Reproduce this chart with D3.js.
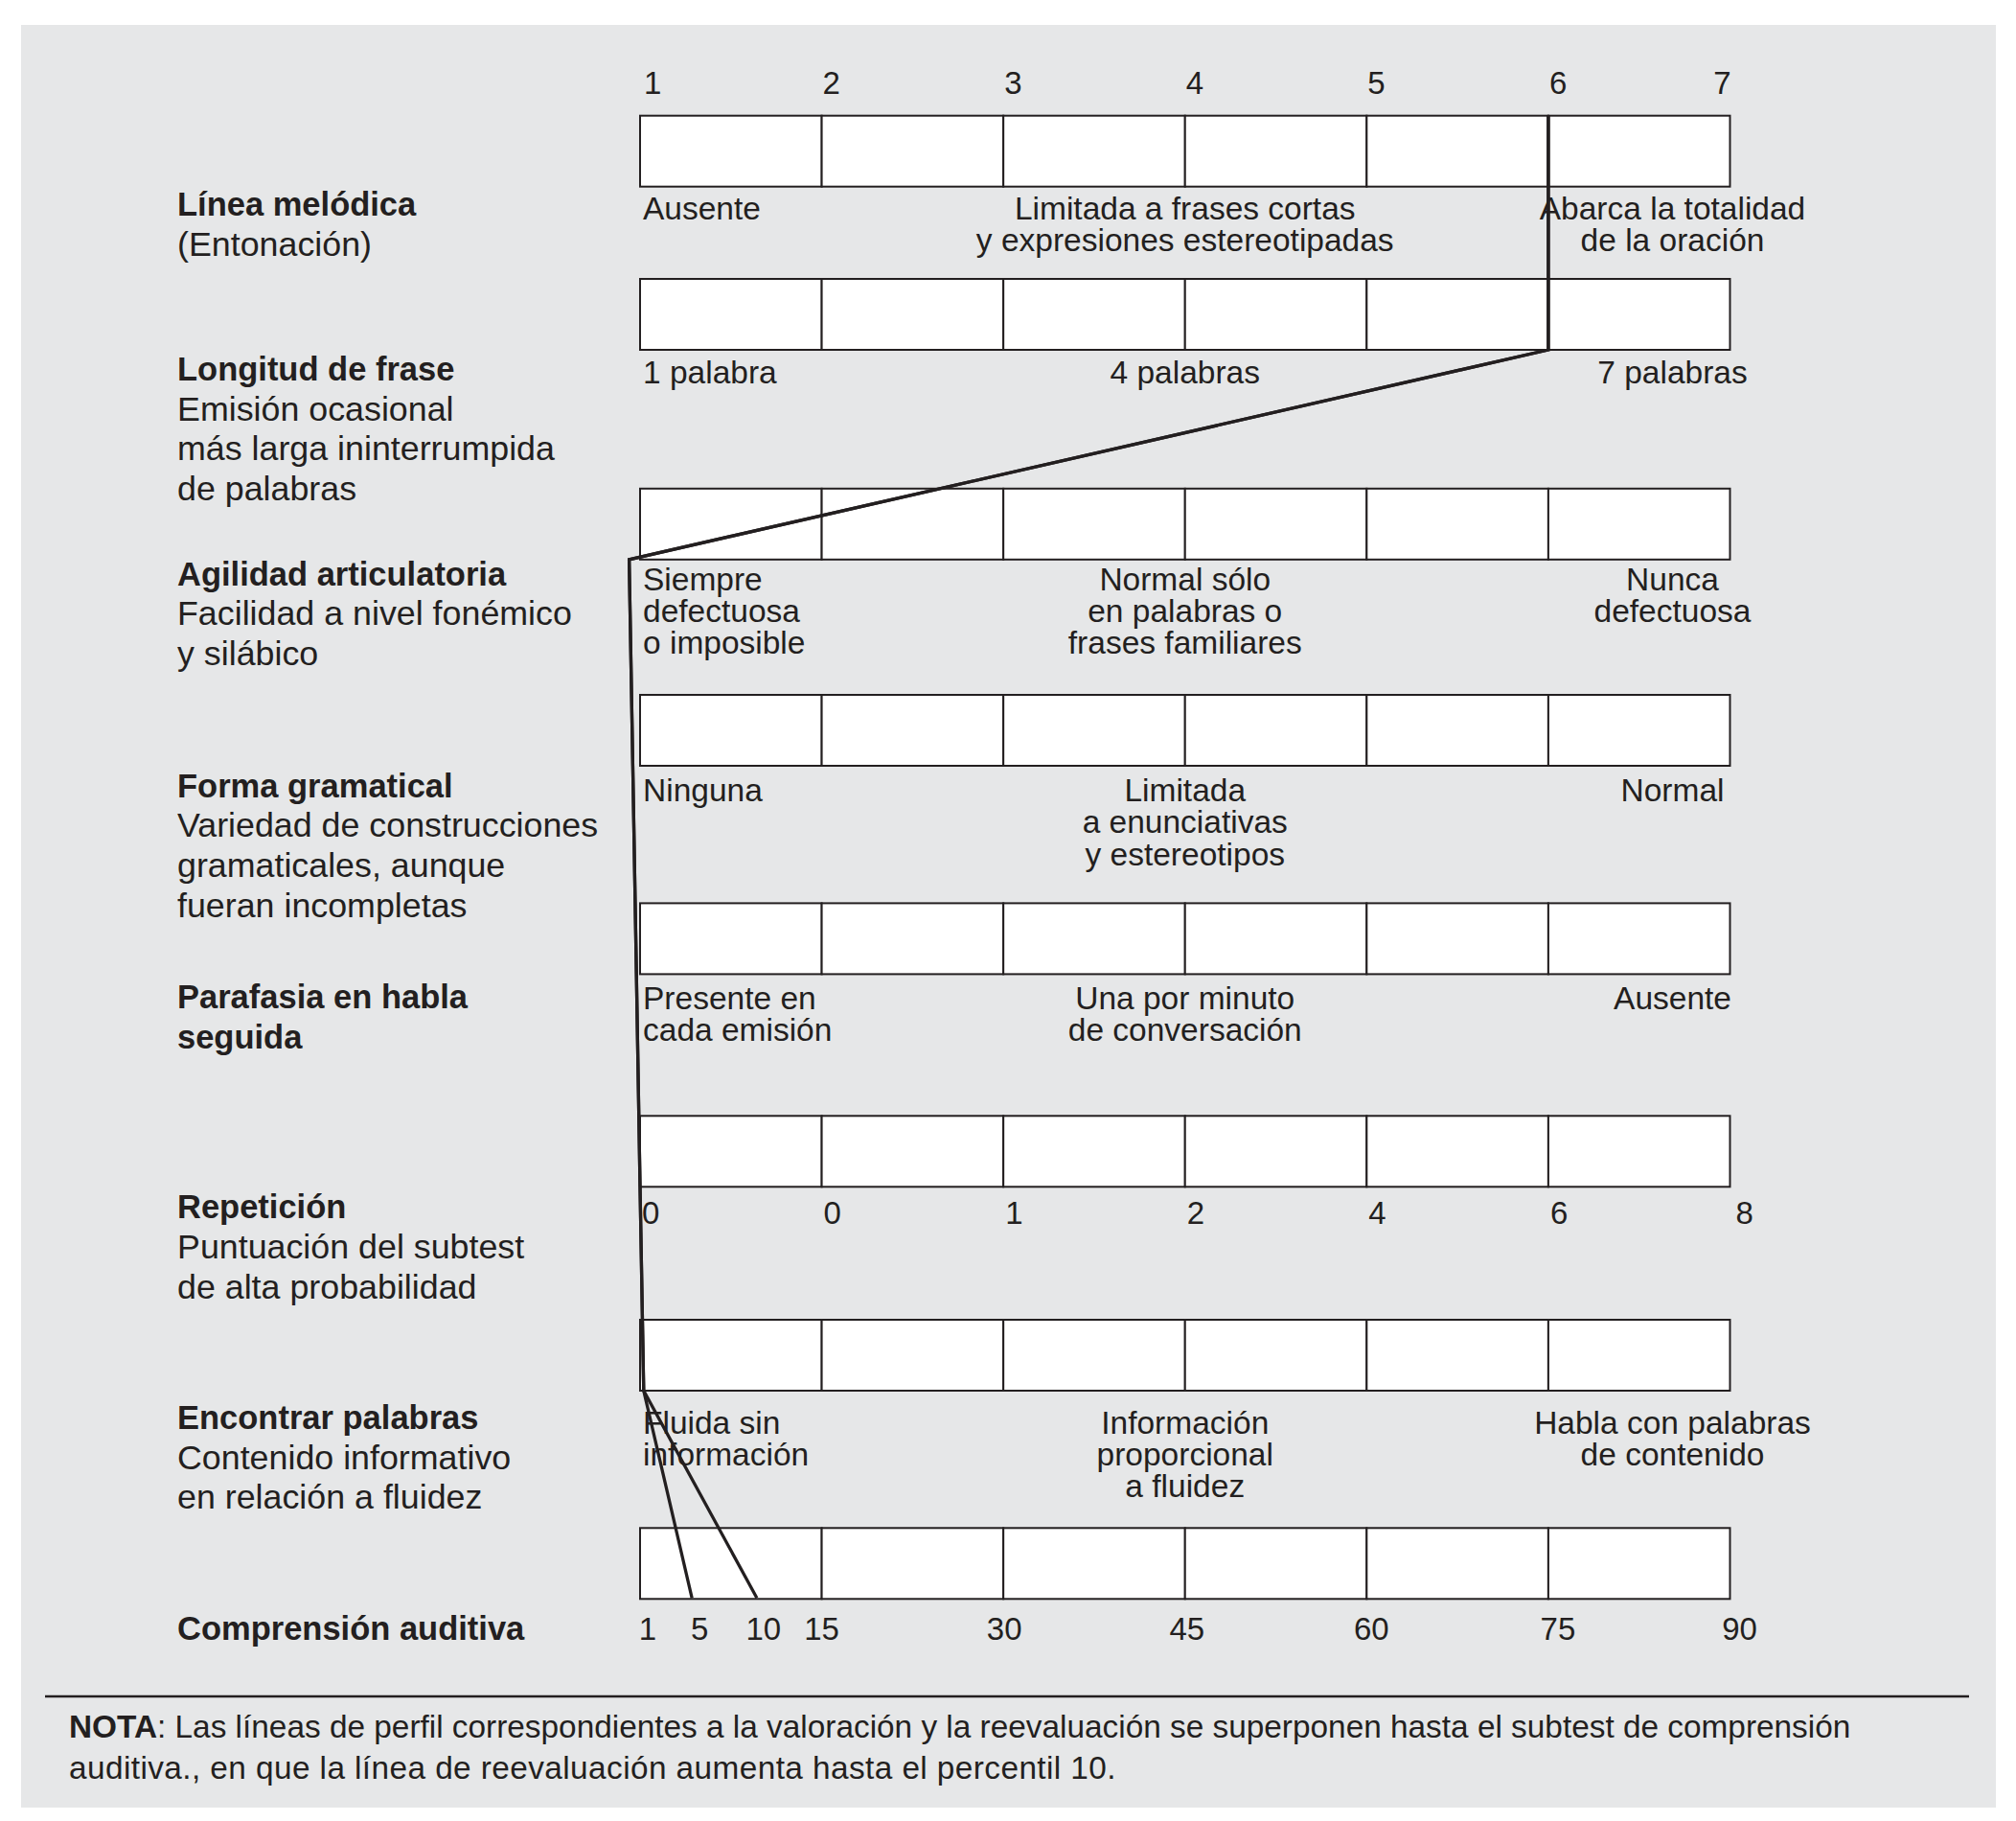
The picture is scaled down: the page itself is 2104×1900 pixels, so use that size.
<!DOCTYPE html>
<html><head><meta charset="utf-8">
<script src="https://cdn.jsdelivr.net/npm/d3@7"></script>
<style>body{margin:0;background:#fff}</style>
</head><body><svg id="c" width="2104" height="1900"></svg>
<script>
// ---------- DATA ----------
const ratingTicks = [1, 2, 3, 4, 5, 6, 7];
const repeticionTicks = ["0", "0", "1", "2", "4", "6", "8"];
const comprensionTicks = [1, 5, 10, 15, 30, 45, 60, 75, 90];
const comprensionDomain = [1, 15, 30, 45, 60, 75, 90];

const titles = [
  ["Línea melódica"],
  ["Longitud de frase"],
  ["Agilidad articulatoria"],
  ["Forma gramatical"],
  ["Parafasia en habla", "seguida"],
  ["Repetición"],
  ["Encontrar palabras"],
  ["Comprensión auditiva"]
];
const subtitles = [
  ["(Entonación)"],
  ["Emisión ocasional", "más larga ininterrumpida", "de palabras"],
  ["Facilidad a nivel fonémico", "y silábico"],
  ["Variedad de construcciones", "gramaticales, aunque", "fueran incompletas"],
  [],
  ["Puntuación del subtest", "de alta probabilidad"],
  ["Contenido informativo", "en relación a fluidez"],
  []
];
const lowLabels = [
  ["Ausente"], ["1 palabra"], ["Siempre", "defectuosa", "o imposible"], ["Ninguna"],
  ["Presente en", "cada emisión"], null, ["Fluida sin", "información"], null
];
const midLabels = [
  ["Limitada a frases cortas", "y expresiones estereotipadas"], ["4 palabras"],
  ["Normal sólo", "en palabras o", "frases familiares"], ["Limitada", "a enunciativas", "y estereotipos"],
  ["Una por minuto", "de conversación"], null, ["Información", "proporcional", "a fluidez"], null
];
const highLabels = [
  ["Abarca la totalidad", "de la oración"], ["7 palabras"], ["Nunca", "defectuosa"], ["Normal"],
  ["Ausente"], null, ["Habla con palabras", "de contenido"], null
];

// profile values (rating scale) for the first seven scales
const valoracion = [6, 6, 0.94, 0.96, 0.98, 1.0, 1.02];
const comprensionValoracion = 5;
const comprensionReevaluacion = 10;

const notaBold = "NOTA";
const notaLines = [
  ": Las líneas de perfil correspondientes a la valoración y la reevaluación se superponen hasta el subtest de comprensión",
  "auditiva., en que la línea de reevaluación aumenta hasta el percentil 10."
];

// ---------- LAYOUT ----------
const FONT = "'Liberation Sans', Arial, Helvetica, sans-serif";
const INK = "#231f20";
const rowTops = [120.7, 291, 509.8, 725, 942.4, 1164.3, 1377, 1594.3];
const boxH = 74;
const titleBase = [225.4, 397, 610.7, 831.7, 1051.8, 1271.4, 1491, 1711];
const descBase = [228.6, 400, 615.5, 836, 1052.7, null, 1495.5, null];
const compDx = [8, 8, 7, 0, 1, 2, 5, 10, 10];
const leftX = 185;
const labelLH = 41.7, descLH = 33.3;

const svg = d3.select("#c");
svg.append("rect").attr("x", 22).attr("y", 26).attr("width", 2061).attr("height", 1860).attr("fill", "#e6e7e8");

const x = d3.scaleLinear().domain([1, 7]).range([668, 1805.5]);
const xComp = d3.scaleLinear().domain(comprensionDomain).range(ratingTicks.map(v => x(v)));

// boxes
rowTops.forEach((top, r) => {
  const g = svg.append("g");
  g.selectAll("rect").data(d3.range(6)).join("rect")
    .attr("x", c => x(c + 1)).attr("y", top)
    .attr("width", c => x(c + 2) - x(c + 1)).attr("height", boxH)
    .attr("fill", "#fff").attr("stroke", INK).attr("stroke-width", 2);
});

// left labels
titles.forEach((t, r) => {
  const txt = svg.append("text").attr("font-family", FONT).attr("fill", INK);
  const lines = t.map(s => ({ s, bold: true })).concat(subtitles[r].map(s => ({ s, bold: false })));
  lines.forEach((l, i) => {
    txt.append("tspan").attr("x", leftX).attr("y", titleBase[r] + i * labelLH)
      .attr("font-size", l.bold ? 34.5 : 35.8)
      .attr("font-weight", l.bold ? "bold" : "normal").text(l.s);
  });
});

// descriptors
function multiline(lines, xx, y0, anchor) {
  const txt = svg.append("text").attr("font-family", FONT).attr("font-size", 33.5)
    .attr("fill", INK).attr("text-anchor", anchor);
  lines.forEach((s, i) => txt.append("tspan").attr("x", xx).attr("y", y0 + i * descLH).text(s));
}
descBase.forEach((b, r) => {
  if (b == null) return;
  multiline(lowLabels[r], x(1) + 3, b, "start");
  multiline(midLabels[r], x(4), b, "middle");
  multiline(highLabels[r], x(7) - 60, b, "middle");
});

// top rating numbers
svg.append("g").selectAll("text").data(ratingTicks).join("text")
  .attr("font-family", FONT).attr("font-size", 33).attr("fill", INK)
  .attr("x", d => d === 1 ? x(d) + 4 : x(d) + 1)
  .attr("text-anchor", d => d < 7 ? "start" : "end")
  .attr("y", 98.2).text(d => d);

// repetición numbers
svg.append("g").selectAll("text").data(repeticionTicks).join("text")
  .attr("font-family", FONT).attr("font-size", 33).attr("fill", INK)
  .attr("x", (d, i) => x(i + 1) + (i === 6 ? 6 : 2)).attr("y", 1277).text(d => d);

// comprensión numbers
svg.append("g").selectAll("text").data(comprensionTicks).join("text")
  .attr("font-family", FONT).attr("font-size", 33).attr("fill", INK).attr("text-anchor", "middle")
  .attr("x", (d, i) => xComp(d) + compDx[i]).attr("y", 1711).text(d => d);

// profile lines
const rowBottom = r => rowTops[r] + boxH;
const basePts = [[x(valoracion[0]), rowTops[0]]].concat(valoracion.map((v, r) => [x(v), rowBottom(r)]));
const line = d3.line();
[comprensionReevaluacion, comprensionValoracion].forEach(cv => {
  svg.append("path").attr("d", line(basePts.concat([[xComp(cv), rowBottom(7) - 1]])))
    .attr("fill", "none").attr("stroke", INK).attr("stroke-width", 3.3).attr("stroke-linejoin", "miter");
});

// nota
svg.append("line").attr("x1", 47).attr("x2", 2055).attr("y1", 1770).attr("y2", 1770)
  .attr("stroke", INK).attr("stroke-width", 2.5);
const n1 = svg.append("text").attr("font-family", FONT).attr("font-size", 32).attr("fill", INK)
  .attr("x", 72).attr("y", 1813);
n1.append("tspan").attr("font-weight", "bold").text(notaBold);
n1.append("tspan").text(notaLines[0]);
const n2 = svg.append("text").attr("font-family", FONT).attr("font-size", 32).attr("fill", INK)
  .attr("x", 72).attr("y", 1855.5).text(notaLines[1]);
// fit the note's lines to the original widths
const w1 = n1.node().getComputedTextLength();
const fs = 32 * 1860 / w1;
n1.attr("font-size", fs); n2.attr("font-size", fs);
const w2 = n2.node().getComputedTextLength();
n2.attr("letter-spacing", (1093 - w2) / notaLines[1].length);
</script>
</body></html>
